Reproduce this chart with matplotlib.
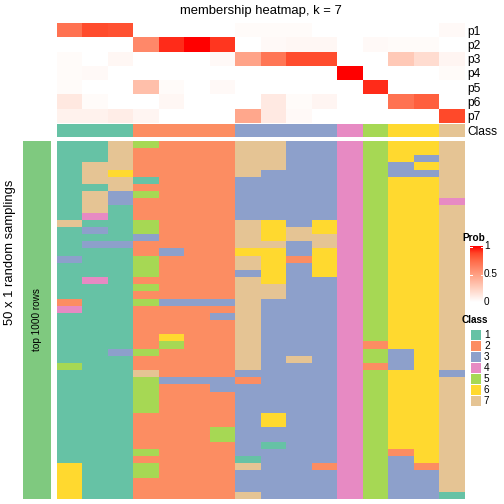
import numpy as np
import matplotlib.pyplot as plt
from matplotlib.colors import ListedColormap, LinearSegmentedColormap

plt.rcParams['font.family'] = ['Liberation Sans', 'DejaVu Sans']

# membership probabilities, one list per row (p1..p7), 16 columns
p1 = [0.70, 0.85, 0.83, 0, 0, 0, 0, 0.02, 0.02, 0.02, 0, 0, 0, 0, 0, 0.03]
p2 = [0, 0, 0, 0.60, 0.92, 1.00, 0.90, 0, 0.03, 0.04, 0.04, 0, 0.03, 0.02, 0.02, 0]
p3 = [0.02, 0, 0.04, 0, 0, 0, 0.03, 0.47, 0.68, 0.85, 0.85, 0, 0, 0.28, 0.18, 0.05]
p4 = [0.02, 0.03, 0, 0, 0, 0, 0, 0, 0, 0, 0, 1.00, 0, 0, 0, 0.02]
p5 = [0.02, 0, 0, 0.33, 0.02, 0, 0.03, 0, 0, 0, 0, 0, 0.92, 0, 0, 0]
p6 = [0.12, 0.02, 0, 0, 0.04, 0, 0, 0, 0.11, 0.02, 0.05, 0, 0, 0.70, 0.78, 0]
p7 = [0.07, 0.07, 0.09, 0.05, 0, 0, 0, 0.45, 0.11, 0.03, 0, 0, 0, 0, 0, 0.86]
prob_rows = ['p1', 'p2', 'p3', 'p4', 'p5', 'p6', 'p7']

column_class = [1, 1, 1, 2, 2, 2, 2, 3, 3, 3, 3, 4, 5, 6, 6, 7]

# class of each sampling (50 rows), per column as (class, run length)
sampling_runs = [
    [(1, 11), (7, 1), (1, 4), (3, 1), (1, 5), (2, 1), (4, 1), (1, 7), (5, 1), (1, 13), (6, 5)],
    [(1, 3), (7, 3), (1, 1), (7, 3), (4, 1), (1, 1), (3, 1), (1, 1), (3, 1), (1, 4), (4, 1), (1, 30)],
    [(7, 4), (6, 1), (7, 2), (3, 2), (1, 5), (3, 1), (1, 14), (3, 1), (1, 20)],
    [(5, 1), (2, 4), (1, 1), (2, 1), (5, 1), (2, 3), (5, 2), (3, 1), (2, 2), (5, 3), (2, 1), (5, 1),
     (2, 1), (5, 1), (2, 6), (5, 1), (2, 2), (7, 1), (5, 5), (2, 5), (5, 1), (2, 1), (5, 2), (2, 3)],
    [(2, 15), (3, 1), (2, 6), (3, 1), (2, 4), (6, 1), (5, 1), (2, 4), (3, 1), (2, 16)],
    [(2, 22), (3, 1), (2, 10), (3, 1), (2, 16)],
    [(2, 22), (3, 1), (2, 1), (3, 1), (2, 8), (3, 2), (2, 5), (5, 2), (2, 8)],
    [(7, 5), (3, 6), (7, 4), (6, 1), (7, 2), (3, 1), (7, 13), (3, 1), (2, 1), (3, 10), (1, 1), (7, 1), (3, 3), (7, 1)],
    [(7, 4), (3, 7), (6, 3), (7, 1), (6, 5), (7, 2), (3, 16), (6, 2), (3, 2), (1, 1), (3, 7)],
    [(3, 12), (7, 2), (3, 2), (2, 1), (3, 13), (7, 1), (3, 19)],
    [(3, 11), (6, 2), (7, 2), (6, 4), (3, 26), (2, 1), (3, 4)],
    [(4, 50)],
    [(5, 28), (2, 1), (5, 2), (2, 1), (5, 18)],
    [(6, 3), (3, 2), (6, 24), (3, 3), (6, 11), (2, 1), (3, 6)],
    [(6, 2), (3, 1), (6, 1), (3, 1), (6, 40), (2, 1), (3, 4)],
    [(7, 8), (4, 1), (7, 23), (3, 1), (7, 16), (1, 1)],
]

class_labels = ['1', '2', '3', '4', '5', '6', '7']
class_colors = ['#66C2A5', '#FC8D62', '#8DA0CB', '#E78AC3', '#A6D854', '#FFD92F', '#E5C494']

prob = np.array([p1, p2, p3, p4, p5, p6, p7])
samplings = np.array([[c for c, n in col for _ in range(n)] for col in sampling_runs]).T

# white -> red, roughly as interpolated in LAB
prob_cmap = LinearSegmentedColormap.from_list('prob', [
    (0, '#FFFFFF'), (0.25, '#FFCFBE'), (0.5, '#FF9E81'),
    (0.75, '#FF6846'), (0.875, '#FF4628'), (1, '#FF0000')])
class_cmap = ListedColormap(class_colors)

W = H = 504
fig = plt.figure(figsize=(7, 7), dpi=72)


def box(x0, y0, x1, y1):
    return fig.add_axes([x0 / W, 1 - y1 / H, (x1 - x0) / W, (y1 - y0) / H])


X0, X1 = 57.3, 464.7

ax = box(X0, 23.3, X1, 122.7)
ax.imshow(prob, cmap=prob_cmap, vmin=0, vmax=1, aspect='auto', interpolation='nearest')
ax.set_xticks([])
ax.yaxis.tick_right()
ax.set_yticks(range(len(prob_rows)))
ax.set_yticklabels(prob_rows, fontsize=12)
ax.tick_params(axis='y', length=0, pad=3)
for s in ax.spines.values():
    s.set_visible(False)

ax = box(X0, 124, X1, 137.3)
ax.imshow([column_class], cmap=class_cmap, vmin=0.5, vmax=7.5, aspect='auto', interpolation='nearest')
ax.set_xticks([])
ax.yaxis.tick_right()
ax.set_yticks([0])
ax.set_yticklabels(['Class'], fontsize=12)
ax.tick_params(axis='y', length=0, pad=3)
for s in ax.spines.values():
    s.set_visible(False)

ax = box(X0, 141, X1, 499)
ax.imshow(samplings, cmap=class_cmap, vmin=0.5, vmax=7.5, aspect='auto', interpolation='nearest')
ax.set_xticks([])
ax.set_yticks([])
for s in ax.spines.values():
    s.set_visible(False)

ax = box(23, 141, 51, 499)
ax.set_facecolor('#7FC97F')
ax.set_xticks([])
ax.set_yticks([])
for s in ax.spines.values():
    s.set_visible(False)
ax.text(0.5, 0.5, 'top 1000 rows', rotation=90, ha='center', va='center', fontsize=10,
        transform=ax.transAxes)

fig.text(10 / W, 1 - 252 / H, '50 x 1 random samplings', rotation=90, ha='center', va='center',
         fontsize=13)
fig.text(261 / W, 1 - 11 / H, 'membership heatmap, k = 7', ha='center', va='center', fontsize=13)

# Prob legend
fig.text(462 / W, 1 - 238 / H, 'Prob', fontsize=10, fontweight='bold', ha='left', va='center')
cax = box(470, 246, 482.5, 302)
grad = np.linspace(1, 0, 200).reshape(-1, 1)
cax.imshow(grad, cmap=prob_cmap, vmin=0, vmax=1, aspect='auto', extent=[0, 1, 0, 1])
cax.set_xlim(0, 1)
cax.set_ylim(0, 1)
for v in [0.5, 1.0]:
    cax.plot([0, 0.15], [v - 0.01, v - 0.01], color='white', lw=1)
    cax.plot([0.85, 1], [v - 0.01, v - 0.01], color='white', lw=1)
cax.axis('off')
for v, lab in [(1, '1'), (0.5, '0.5'), (0, '0')]:
    fig.text(484 / W, 1 - (302 - 56 * v) / H, lab, fontsize=10, ha='left', va='center')

# Class legend
fig.text(462 / W, 1 - 320 / H, 'Class', fontsize=10, fontweight='bold', ha='left', va='center')
for i, (lab, col) in enumerate(zip(class_labels, class_colors)):
    yc = 335 + 11 * i
    lax = box(471, yc - 5, 481, yc + 5)
    lax.set_facecolor(col)
    lax.set_xticks([])
    lax.set_yticks([])
    for s in lax.spines.values():
        s.set_visible(False)
    fig.text(484 / W, 1 - yc / H, lab, fontsize=10, ha='left', va='center')

fig.savefig('out.png', dpi=72)
